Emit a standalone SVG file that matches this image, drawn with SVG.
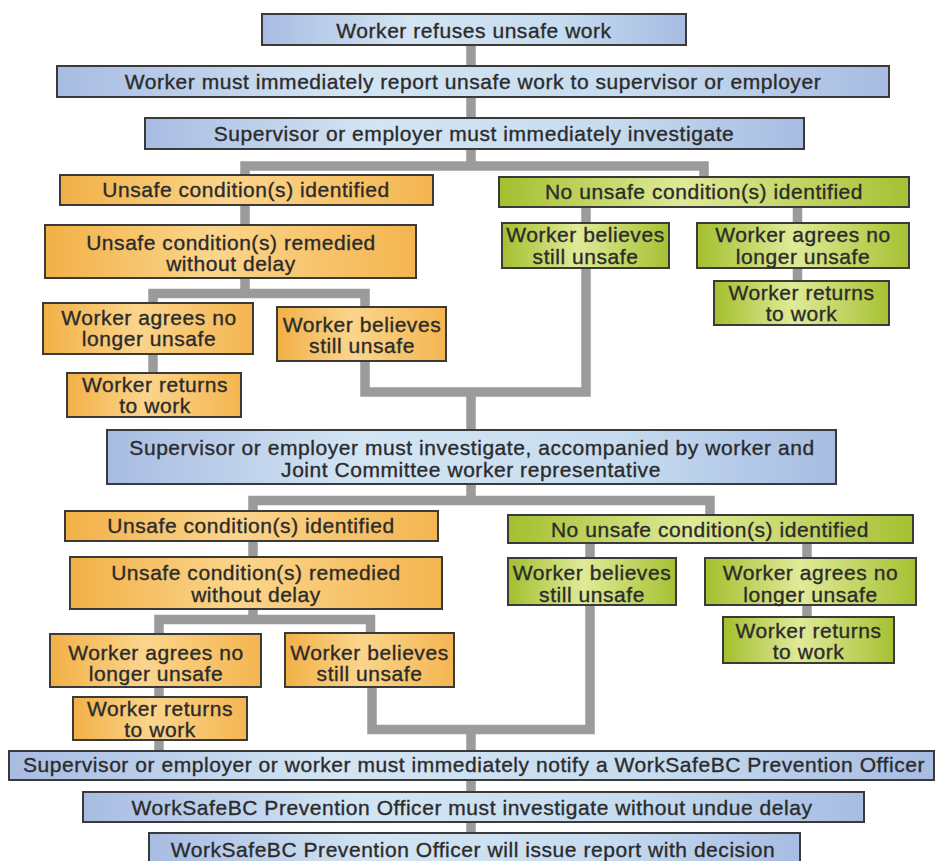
<svg xmlns="http://www.w3.org/2000/svg" width="936" height="861" viewBox="0 0 936 861">
<defs>
<linearGradient id="gBlue" x1="0" y1="0" x2="1" y2="0">
<stop offset="0" stop-color="#a8bce3"/><stop offset="0.35" stop-color="#d3e5f3"/><stop offset="0.7" stop-color="#c6dcef"/><stop offset="1" stop-color="#a8bce3"/>
</linearGradient>
<linearGradient id="gOrange" x1="0" y1="0" x2="1" y2="0">
<stop offset="0" stop-color="#f2b046"/><stop offset="0.45" stop-color="#fbd58c"/><stop offset="1" stop-color="#f4b550"/>
</linearGradient>
<linearGradient id="gGreen" x1="0" y1="0" x2="1" y2="0">
<stop offset="0" stop-color="#a3bf2e"/><stop offset="0.45" stop-color="#e0ea98"/><stop offset="1" stop-color="#a6c133"/>
</linearGradient>
</defs>
<style>
.b{fill:url(#gBlue);stroke:#3a3a3a;stroke-width:2}
.o{fill:url(#gOrange);stroke:#3a3a3a;stroke-width:2}
.g{fill:url(#gGreen);stroke:#3a3a3a;stroke-width:2}
text{font-family:"Liberation Sans",Arial,sans-serif;font-size:21px;letter-spacing:0.55px;fill:#2b2b2b;text-anchor:middle;stroke:#2b2b2b;stroke-width:0.35}
.c{fill:none;stroke:#9b9b9b;stroke-width:9.5;stroke-linejoin:miter}
</style>
<g id="connectors">
<path class="c" d="M471,45 V166 M245,175 V166 H704 V177"/>
<path class="c" d="M245,205 V293.5 M153,303 V293.5 H365 V307"/>
<path class="c" d="M153,354 V373"/>
<path class="c" d="M365,361 V392 H586 V207"/>
<path class="c" d="M797.5,207 V281"/>
<path class="c" d="M471,392 V430"/>
<path class="c" d="M471,484 V500.5 M253,511 V500.5 H710 V515"/>
<path class="c" d="M253,541 V619.5 M159,634 V619.5 H370.5 V633"/>
<path class="c" d="M159,687 V751"/>
<path class="c" d="M372,687 V729.5 H590 V543"/>
<path class="c" d="M807,543 V617"/>
<path class="c" d="M471,729.5 V840"/>
</g>
<g id="n1"><rect class="b" x="262" y="14" width="424" height="31"/><text x="474" y="38">Worker refuses unsafe work</text></g>
<g id="n2"><rect class="b" x="57" y="66" width="832" height="31"/><text x="473" y="89">Worker must immediately report unsafe work to supervisor or employer</text></g>
<g id="n3"><rect class="b" x="145" y="118" width="659" height="31"/><text x="474" y="141">Supervisor or employer must immediately investigate</text></g>
<g id="n4"><rect class="o" x="60" y="175" width="373" height="30"/><text x="246" y="197">Unsafe condition(s) identified</text></g>
<g id="n5"><rect class="g" x="499" y="177" width="410" height="30"/><text x="704" y="199">No unsafe condition(s) identified</text></g>
<g id="n6"><rect class="o" x="45" y="225" width="371" height="53"/><text x="231" y="250">Unsafe condition(s) remedied</text><text x="231" y="271">without delay</text></g>
<g id="n7"><rect class="g" x="502" y="223" width="167" height="45"/><text x="585.5" y="242">Worker believes</text><text x="585.5" y="264">still unsafe</text></g>
<g id="n8"><rect class="g" x="697" y="223" width="212" height="45"/><text x="803" y="242">Worker agrees no</text><text x="803" y="264">longer unsafe</text></g>
<g id="n9"><rect class="g" x="714" y="281" width="175" height="44"/><text x="801.5" y="300">Worker returns</text><text x="801.5" y="321">to work</text></g>
<g id="n10"><rect class="o" x="43" y="303" width="210" height="51"/><text x="149" y="325">Worker agrees no</text><text x="149" y="346">longer unsafe</text></g>
<g id="n11"><rect class="o" x="277" y="307" width="169" height="54"/><text x="362" y="332">Worker believes</text><text x="362" y="353">still unsafe</text></g>
<g id="n12"><rect class="o" x="67" y="373" width="174" height="44"/><text x="155" y="392">Worker returns</text><text x="155" y="413">to work</text></g>
<g id="n13"><rect class="b" x="107" y="430" width="729" height="54"/><text x="472" y="455">Supervisor or employer must investigate, accompanied by worker and</text><text x="471" y="477">Joint Committee worker representative</text></g>
<g id="n14"><rect class="o" x="65" y="511" width="373" height="30"/><text x="251" y="533">Unsafe condition(s) identified</text></g>
<g id="n15"><rect class="g" x="508" y="515" width="405" height="28"/><text x="710" y="537">No unsafe condition(s) identified</text></g>
<g id="n16"><rect class="o" x="70" y="557" width="372" height="52"/><text x="256" y="580">Unsafe condition(s) remedied</text><text x="256" y="602">without delay</text></g>
<g id="n17"><rect class="g" x="508" y="558" width="168" height="47"/><text x="592" y="580">Worker believes</text><text x="592" y="602">still unsafe</text></g>
<g id="n18"><rect class="g" x="705" y="558" width="211" height="47"/><text x="810.5" y="580">Worker agrees no</text><text x="810.5" y="602">longer unsafe</text></g>
<g id="n19"><rect class="g" x="723" y="617" width="171" height="46"/><text x="808.5" y="638">Worker returns</text><text x="808.5" y="659">to work</text></g>
<g id="n20"><rect class="o" x="50" y="634" width="211" height="53"/><text x="156" y="660">Worker agrees no</text><text x="156" y="681">longer unsafe</text></g>
<g id="n21"><rect class="o" x="285" y="633" width="169" height="54"/><text x="369.5" y="660">Worker believes</text><text x="369.5" y="681">still unsafe</text></g>
<g id="n22"><rect class="o" x="73" y="697" width="174" height="43"/><text x="160" y="716">Worker returns</text><text x="160" y="737">to work</text></g>
<g id="n23"><rect class="b" x="9" y="751" width="925" height="29"/><text x="474" y="772">Supervisor or employer or worker must immediately notify a WorkSafeBC Prevention Officer</text></g>
<g id="n24"><rect class="b" x="83" y="792" width="781" height="30"/><text x="472" y="815">WorkSafeBC Prevention Officer must investigate without undue delay</text></g>
<g id="n25"><rect class="b" x="149" y="833" width="651" height="34"/><text x="473" y="857">WorkSafeBC Prevention Officer will issue report with decision</text></g>
</svg>
